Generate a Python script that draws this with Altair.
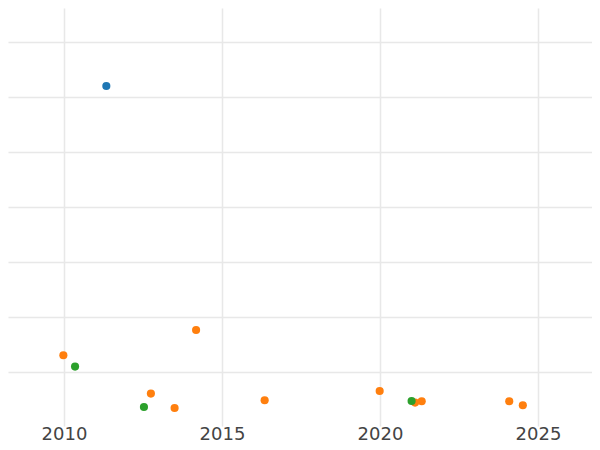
import altair as alt
import pandas as pd

# Data
series = ["A", "B", "B", "B", "B", "B", "B", "B", "B", "B", "B", "C", "C", "C"]
years = [2011.34, 2009.98, 2012.75, 2013.50, 2014.18, 2016.35, 2019.99, 2021.11, 2021.32, 2024.09, 2024.52, 2010.35, 2012.53, 2021.00]
values = [62.05, 13.09, 6.13, 3.51, 17.69, 4.91, 6.6, 4.49, 4.73, 4.73, 4.0, 11.04, 3.69, 4.78]
series_order = ["A", "B", "C"]
series_colors = ["#1f77b4", "#ff7f0e", "#2ca02c"]
x_ticks = [2010, 2015, 2020, 2025]
y_grid = [10, 20, 30, 40, 50, 60, 70]

df = pd.DataFrame({"series": series, "year": years, "value": values})

chart = alt.Chart(df).mark_circle(size=66, opacity=1).encode(
    x=alt.X("year:Q",
            scale=alt.Scale(domain=[2008.228, 2026.709], nice=False, zero=False),
            axis=alt.Axis(values=x_ticks, format="d", title=None, ticks=False, domain=False,
                          labelFontSize=18, labelColor="#444444", labelFont="DejaVu Sans",
                          labelPadding=-1, gridColor="#e8e8e8", gridWidth=1.5,
                          labelFlush=False)),
    y=alt.Y("value:Q",
            scale=alt.Scale(domain=[0.236, 76.24], nice=False, zero=False),
            axis=alt.Axis(values=y_grid, title=None, labels=False, ticks=False, domain=False,
                          gridColor="#e8e8e8", gridWidth=1.5)),
    color=alt.Color("series:N", scale=alt.Scale(domain=series_order, range=series_colors), legend=None),
).properties(
    width=584, height=418,
    background="white",
    autosize=alt.AutoSizeParams(type="none"),
    padding={"left": 0, "top": 0, "right": 0, "bottom": 16},
).configure_view(stroke=None)

chart.save("out.html", embed_options={"renderer": "svg", "actions": False})
